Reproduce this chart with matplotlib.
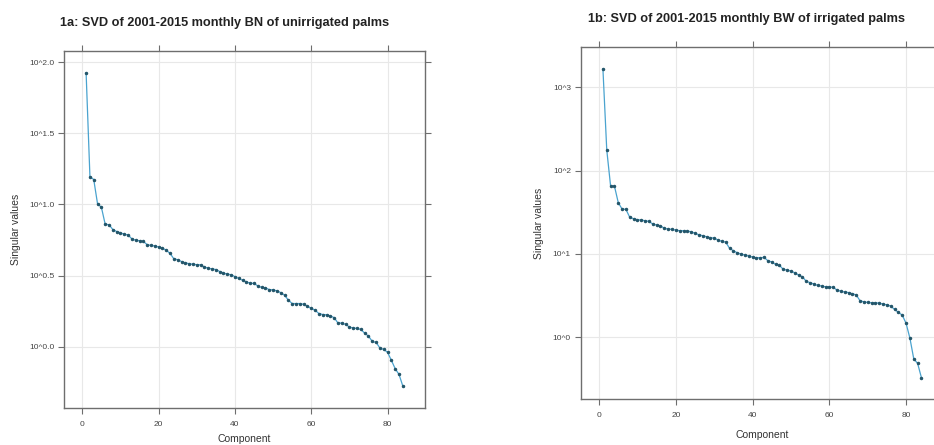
import matplotlib
matplotlib.use("Agg")
import matplotlib.pyplot as plt
import numpy as np

plt.rcParams['font.family'] = ['Liberation Sans', 'DejaVu Sans']

# Data (log10 of singular values)
components = list(range(1, 85))

bn_unirrigated_log10 = [
    1.923, 1.195, 1.174, 1.003, 0.980, 0.860, 0.857, 0.823, 0.809, 0.800,
    0.790, 0.785, 0.757, 0.748, 0.744, 0.739, 0.717, 0.711, 0.708, 0.700,
    0.692, 0.678, 0.655, 0.617, 0.611, 0.598, 0.589, 0.583, 0.579, 0.576,
    0.575, 0.560, 0.551, 0.546, 0.542, 0.528, 0.518, 0.509, 0.506, 0.492,
    0.479, 0.467, 0.455, 0.446, 0.444, 0.427, 0.416, 0.413, 0.401, 0.399,
    0.392, 0.380, 0.362, 0.327, 0.303, 0.303, 0.303, 0.298, 0.284, 0.270,
    0.256, 0.233, 0.226, 0.224, 0.216, 0.204, 0.166, 0.166, 0.157, 0.138,
    0.131, 0.128, 0.121, 0.095, 0.074, 0.037, 0.030, -0.010, -0.019, -0.040,
    -0.096, -0.155, -0.195, -0.277,
]

bw_irrigated_log10 = [
    3.220, 2.247, 1.815, 1.815, 1.615, 1.539, 1.535, 1.439, 1.423, 1.411,
    1.407, 1.399, 1.391, 1.359, 1.347, 1.339, 1.307, 1.299, 1.295, 1.287,
    1.279, 1.279, 1.275, 1.267, 1.247, 1.231, 1.219, 1.207, 1.195, 1.191,
    1.167, 1.151, 1.143, 1.067, 1.039, 1.014, 0.999, 0.987, 0.975, 0.963,
    0.955, 0.955, 0.959, 0.918, 0.903, 0.875, 0.863, 0.815, 0.807, 0.795,
    0.774, 0.747, 0.726, 0.670, 0.656, 0.638, 0.622, 0.615, 0.606, 0.606,
    0.599, 0.567, 0.553, 0.543, 0.537, 0.523, 0.509, 0.438, 0.426, 0.418,
    0.414, 0.414, 0.410, 0.398, 0.390, 0.374, 0.334, 0.299, 0.266, 0.167,
    -0.012, -0.260, -0.313, -0.486,
]

left_ticks = [0.0, 0.5, 1.0, 1.5, 2.0]
left_labels = ["10^0.0", "10^0.5", "10^1.0", "10^1.5", "10^2.0"]
right_ticks = [0, 1, 2, 3]
right_labels = ["10^0", "10^1", "10^2", "10^3"]
x_ticks = [0, 20, 40, 60, 80]

frame_col = '#6e6e6e'
line_col = '#4aa3cf'
pt_col = '#24566a'

fig = plt.figure(figsize=(9.34, 4.45), dpi=100)
ax1 = fig.add_axes([0.0685, 0.0831, 0.3865, 0.8022])
ax2 = fig.add_axes([0.6217, 0.1027, 0.3887, 0.7908])


def style(ax, yt, yl, ylim, xpad):
    ax.set_xlim(-4.8, 89.8)
    ax.set_ylim(*ylim)
    ax.set_xticks(x_ticks)
    ax.set_xticklabels([str(t) for t in x_ticks])
    ax.set_yticks(yt)
    ax.set_yticklabels(yl)
    ax.grid(True, color='#e8e8e8', linewidth=0.8)
    ax.set_axisbelow(True)
    for s in ax.spines.values():
        s.set_color(frame_col)
        s.set_linewidth(1.0)
    ax.tick_params(direction='out', length=4, width=0.8, color=frame_col,
                   labelsize=6, labelcolor='#444444', top=True, right=True,
                   pad=3)
    ax.tick_params(axis='x', pad=5)
    ax.set_xlabel("Component", fontsize=7.5, color='#333333', labelpad=xpad)
    ax.set_ylabel("Singular values", fontsize=7.5, color='#333333', labelpad=6)


ax1.plot(components, bn_unirrigated_log10, color=line_col, linewidth=0.9,
         marker='o', markersize=1.5, markerfacecolor=pt_col,
         markeredgecolor=pt_col)
style(ax1, left_ticks, left_labels, (-0.431, 2.077), 5)

ax2.plot(components, bw_irrigated_log10, color=line_col, linewidth=0.9,
         marker='o', markersize=1.5, markerfacecolor=pt_col,
         markeredgecolor=pt_col)
style(ax2, right_ticks, right_labels, (-0.744, 3.479), 8)

fig.text(225 / 934, 1 - 23 / 445, "1a: SVD of 2001-2015 monthly BN of unirrigated palms",
         ha='center', va='center', fontsize=9.2, fontweight='bold', color='#222222')
fig.text(747 / 934, 1 - 19 / 445, "1b: SVD of 2001-2015 monthly BW of irrigated palms",
         ha='center', va='center', fontsize=9.2, fontweight='bold', color='#222222')

fig.savefig("out.png", dpi=100)
